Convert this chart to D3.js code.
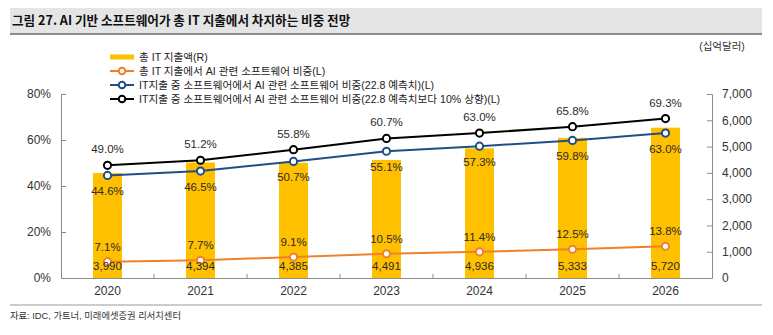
<!DOCTYPE html>
<html>
<head>
<meta charset="utf-8">
<script src="https://cdn.jsdelivr.net/npm/d3@7"></script>
<style>
  body { margin: 0; background: #fff; }
  text { font-family: "Liberation Sans", Arial, "Noto Sans CJK KR", sans-serif; }
</style>
</head>
<body>
<div id="chart"></div>
<script>
// data
const years = ["2020", "2021", "2022", "2023", "2024", "2025", "2026"];
const itSpend = [3990, 4394, 4385, 4491, 4936, 5333, 5720];        // 십억달러 (R)
const aiShareTotal = [7.1, 7.7, 9.1, 10.5, 11.4, 12.5, 13.8];       // %
const aiShareSw = [44.6, 46.5, 50.7, 55.1, 57.3, 59.8, 63.0];       // %
const aiShareSwUp = [49.0, 51.2, 55.8, 60.7, 63.0, 65.8, 69.3];     // %
const leftTicks = [0, 20, 40, 60, 80];
const rightTicks = [0, 1000, 2000, 3000, 4000, 5000, 6000, 7000];
const legendLabels = [
    "총 IT 지출액(R)",
    "총 IT 지출에서 AI 관련 소프트웨어 비중(L)",
    "IT지출 중 소프트웨어에서 AI 관련 소프트웨어 비중(22.8 예측치)(L)",
    "IT지출 중 소프트웨어에서 AI 관련 소프트웨어 비중(22.8 예측치보다 10% 상향)(L)"
];

const width = 773, height = 335;
const plot = { left: 61, right: 712, top: 94, bottom: 278 };

const svg = d3.select("#chart").append("svg")
    .attr("width", width)
    .attr("height", height);

// title band
svg.append("rect")
    .attr("x", 10).attr("y", 8)
    .attr("width", 752).attr("height", 25)
    .attr("fill", "#e5e5e5");
svg.append("line")
    .attr("x1", 10).attr("x2", 762)
    .attr("y1", 34).attr("y2", 34)
    .attr("stroke", "#8c8c8c").attr("stroke-width", 2);
svg.append("text")
    .attr("x", 12).attr("y", 25)
    .attr("font-size", 12.6).attr("font-weight", "bold")
    .attr("fill", "#111")
    .style("font-family", "'Noto Sans CJK KR', sans-serif")
    .text("그림 27. AI 기반 소프트웨어가 총 IT 지출에서 차지하는 비중 전망");

// scales
const x = d3.scaleBand().domain(years).range([plot.left, plot.right]);
const yL = d3.scaleLinear().domain([0, 80]).range([plot.bottom, plot.top]);
const yR = d3.scaleLinear().domain([0, 7000]).range([plot.bottom, plot.top]);
const cx = d => x(d) + x.bandwidth() / 2;
const barW = 29;

// bars
svg.selectAll(".bar")
    .data(years)
    .enter().append("rect")
    .attr("class", "bar")
    .attr("x", d => cx(d) - barW / 2)
    .attr("y", (d, i) => yR(itSpend[i]))
    .attr("width", barW)
    .attr("height", (d, i) => plot.bottom - yR(itSpend[i]))
    .attr("fill", "#ffc000");

// axes
const axisColor = "#8c8c8c";
const leftAxis = svg.append("g")
    .attr("transform", `translate(${plot.left},0)`)
    .call(d3.axisLeft(yL).tickValues(leftTicks).tickSize(-5).tickPadding(10).tickFormat(d => d + "%"));
const rightAxis = svg.append("g")
    .attr("transform", `translate(${plot.right},0)`)
    .call(d3.axisRight(yR).tickValues(rightTicks).tickSize(-5).tickPadding(10).tickFormat(d3.format(",")));
const bottomAxis = svg.append("g")
    .attr("transform", `translate(0,${plot.bottom})`)
    .call(d3.axisBottom(x).tickSize(0).tickPadding(8));

[leftAxis, rightAxis, bottomAxis].forEach(g => {
    g.select(".domain").attr("stroke", axisColor);
    g.selectAll(".tick line").attr("stroke", axisColor);
    g.selectAll(".tick text").attr("font-size", 12).attr("fill", "#333")
        .style("font-family", "'Liberation Sans', Arial, sans-serif");
});

// small ticks between categories
svg.selectAll(".xtick")
    .data(years.slice(1))
    .enter().append("line")
    .attr("x1", d => x(d)).attr("x2", d => x(d))
    .attr("y1", plot.bottom).attr("y2", plot.bottom - 4)
    .attr("stroke", axisColor);

// unit label
svg.append("text")
    .attr("x", 722).attr("y", 50)
    .attr("text-anchor", "middle")
    .attr("font-size", 10.5).attr("fill", "#333")
    .text("(십억달러)");

// lines
const series = [
    { values: aiShareTotal, color: "#f0802a", labelDy: -15 },
    { values: aiShareSw, color: "#1f4e88", labelDy: 16 },
    { values: aiShareSwUp, color: "#000000", labelDy: -16 }
];

const line = d3.line().x(d => cx(d.year)).y(d => yL(d.v));

series.forEach(s => {
    const pts = years.map((yr, i) => ({ year: yr, v: s.values[i] }));
    svg.append("path")
        .datum(pts)
        .attr("d", line)
        .attr("fill", "none")
        .attr("stroke", s.color)
        .attr("stroke-width", 2);
    svg.selectAll(null)
        .data(pts)
        .enter().append("circle")
        .attr("cx", d => cx(d.year))
        .attr("cy", d => yL(d.v))
        .attr("r", 3.6)
        .attr("fill", "#fff")
        .attr("stroke", s.color)
        .attr("stroke-width", 2);
    svg.selectAll(null)
        .data(pts)
        .enter().append("text")
        .attr("x", d => cx(d.year))
        .attr("y", d => yL(d.v) + s.labelDy)
        .attr("dy", "0.35em")
        .attr("text-anchor", "middle")
        .attr("font-size", 11.5)
        .attr("fill", "#2b2b2b")
        .text(d => d.v.toFixed(1) + "%");
});

// bar value labels
svg.selectAll(".barlabel")
    .data(years)
    .enter().append("text")
    .attr("x", d => cx(d))
    .attr("y", 266)
    .attr("dy", "0.35em")
    .attr("text-anchor", "middle")
    .attr("font-size", 11.5)
    .attr("fill", "#2b2b2b")
    .text((d, i) => d3.format(",")(itSpend[i]));

// legend
const legendColors = ["#ffc000", "#f0802a", "#1f4e88", "#000000"];
const legend = svg.append("g").attr("transform", "translate(110,57)");
legendLabels.forEach((label, i) => {
    const g = legend.append("g").attr("transform", `translate(0,${i * 14})`);
    if (i === 0) {
        g.append("rect").attr("x", 0).attr("y", -2.5).attr("width", 24).attr("height", 5)
            .attr("fill", legendColors[i]);
    } else {
        g.append("line").attr("x1", 0).attr("x2", 24).attr("y1", 0).attr("y2", 0)
            .attr("stroke", legendColors[i]).attr("stroke-width", 2);
        g.append("circle").attr("cx", 12).attr("cy", 0).attr("r", 3.3)
            .attr("fill", "#fff").attr("stroke", legendColors[i]).attr("stroke-width", 2);
    }
    g.append("text")
        .attr("x", 29).attr("y", 0).attr("dy", "0.35em")
        .attr("font-size", 10.6).attr("fill", "#222")
        .text(label);
});

// footer
svg.append("line")
    .attr("x1", 10).attr("x2", 762)
    .attr("y1", 305).attr("y2", 305)
    .attr("stroke", "#999").attr("stroke-width", 1.2);
svg.append("text")
    .attr("x", 10).attr("y", 316).attr("dy", "0.35em")
    .attr("font-size", 9.3).attr("fill", "#333")
    .text("자료: IDC, 가트너, 미래에셋증권 리서치센터");
</script>
</body>
</html>
